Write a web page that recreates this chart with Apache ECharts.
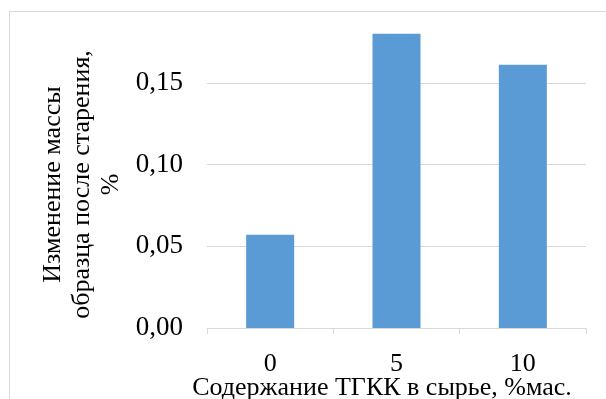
<!DOCTYPE html>
<html><head><meta charset="utf-8">
<script src="https://cdn.jsdelivr.net/npm/echarts@6/dist/echarts.min.js"></script>
<style>html,body{margin:0;padding:0;background:#fff}#c{width:606px;height:399px}</style>
</head><body><div id="c"></div>
<script>
const categories = ['0', '5', '10'];
const values = [0.057, 0.180, 0.161];
const yTicks = [0, 0.05, 0.10, 0.15, 0.20];
const xTitle = 'Содержание ТГКК в сырье, %мас.';
const yTitle = 'Изменение массы\nобразца после старения,\n%';

const font = 'Liberation Serif';
const chart = echarts.init(document.getElementById('c'), null, {renderer: 'canvas'});
chart.setOption({
  animation: false,
  backgroundColor: '#fff',
  graphic: [{
    type: 'rect', silent: true, z: -1,
    shape: {x: 9.5, y: 11.5, width: 800, height: 600},
    style: {fill: 'none', stroke: '#d9d9d9', lineWidth: 1}
  }],
  grid: {left: 207, right: 20, top: 1, bottom: 71, containLabel: false, outerBoundsMode: 'none'},
  xAxis: {
    type: 'category', data: categories,
    axisLine: {lineStyle: {color: '#d9d9d9', width: 1}},
    axisTick: {show: true, length: 6, lineStyle: {color: '#d9d9d9'}},
    axisLabel: {color: '#000', fontFamily: font, fontSize: 26, margin: 23},
    name: xTitle, nameLocation: 'middle', nameGap: 47, nameMoveOverlap: false,
    nameTextStyle: {color: '#000', fontFamily: font, fontSize: 26, padding: [0, 29, 0, 0]}
  },
  yAxis: {
    type: 'value', min: yTicks[0], max: yTicks[yTicks.length - 1], interval: 0.05,
    axisLine: {show: false}, axisTick: {show: false},
    splitLine: {lineStyle: {color: ['#d9d9d9', '#d9d9d9', '#d9d9d9', '#d9d9d9', 'rgba(0,0,0,0)'], width: 1}},
    axisLabel: {color: '#000', fontFamily: font, fontSize: 27, margin: 24, showMaxLabel: false,
      formatter: v => v.toFixed(2).replace('.', ',')},
    name: yTitle, nameLocation: 'middle', nameGap: 81, nameRotate: 90, nameMoveOverlap: false,
    nameTextStyle: {color: '#000', fontFamily: font, fontSize: 26, lineHeight: 29, align: 'center', padding: [0, 40, 0, 0]}
  },
  series: [{
    type: 'bar', data: values, barCategoryGap: '62%',
    itemStyle: {color: '#5b9bd5'}
  }]
});
</script></body></html>
